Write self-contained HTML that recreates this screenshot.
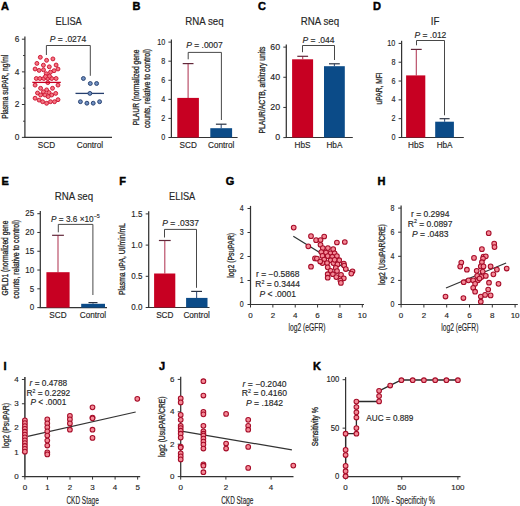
<!DOCTYPE html>
<html><head><meta charset="utf-8"><style>
html,body{margin:0;padding:0;background:#fff;}
svg{display:block;font-family:"Liberation Sans",sans-serif;}
text{fill:#262626;stroke:#262626;stroke-width:0.15px;}
text.rl{stroke-width:0.3px;}
</style></head><body>
<svg width="520" height="506" viewBox="0 0 520 506">
<rect x="0" y="0" width="520" height="506" fill="#fff"/>
<text x="1" y="9.7" font-size="11" font-weight="bold" style="fill:#000;stroke:#000;stroke-width:0.45px">A</text>
<text x="68.70" y="24.80" font-size="10.3" text-anchor="middle" textLength="26.2" lengthAdjust="spacingAndGlyphs" >ELISA</text>
<line x1="24.90" y1="36.60" x2="24.90" y2="137.90" stroke="#333333" stroke-width="1.25"/>
<line x1="21.90" y1="39.20" x2="24.90" y2="39.20" stroke="#333333" stroke-width="1.0"/>
<text x="19.40" y="41.99" font-size="9.3" text-anchor="end" textLength="4.65" lengthAdjust="spacingAndGlyphs" >6</text>
<line x1="21.90" y1="71.90" x2="24.90" y2="71.90" stroke="#333333" stroke-width="1.0"/>
<text x="19.40" y="74.69" font-size="9.3" text-anchor="end" textLength="4.65" lengthAdjust="spacingAndGlyphs" >4</text>
<line x1="21.90" y1="104.50" x2="24.90" y2="104.50" stroke="#333333" stroke-width="1.0"/>
<text x="19.40" y="107.29" font-size="9.3" text-anchor="end" textLength="4.65" lengthAdjust="spacingAndGlyphs" >2</text>
<line x1="21.90" y1="137.40" x2="24.90" y2="137.40" stroke="#333333" stroke-width="1.0"/>
<text x="19.40" y="140.19" font-size="9.3" text-anchor="end" textLength="4.65" lengthAdjust="spacingAndGlyphs" >0</text>
<line x1="23.10" y1="55.50" x2="24.90" y2="55.50" stroke="#333333" stroke-width="1.0"/>
<line x1="23.10" y1="88.20" x2="24.90" y2="88.20" stroke="#333333" stroke-width="1.0"/>
<line x1="23.10" y1="121.20" x2="24.90" y2="121.20" stroke="#333333" stroke-width="1.0"/>
<line x1="24.30" y1="137.40" x2="112.00" y2="137.40" stroke="#333333" stroke-width="1.2"/>
<text x="46.50" y="147.80" font-size="8.2" text-anchor="middle" >SCD</text>
<text x="90.00" y="147.80" font-size="8.2" text-anchor="middle" >Control</text>
<text x="7.70" y="86.75" font-size="9" text-anchor="middle" textLength="64.1" lengthAdjust="spacingAndGlyphs" transform="rotate(-90 7.70 86.75)" class="rl" >Plasma suPAR, ng/ml</text>
<polyline points="46.40,55.00 46.40,45.50 90.30,45.50 90.30,75.80" fill="none" stroke="#333333" stroke-width="0.9"/>
<text x="68.00" y="41.60" font-size="8.5" text-anchor="middle"><tspan font-style="italic">P</tspan> = .0274</text>
<circle cx="40.30" cy="57.30" r="1.95" fill="#f47482" stroke="#cc1430" stroke-width="0.95"/>
<circle cx="46.60" cy="60.30" r="1.95" fill="#f47482" stroke="#cc1430" stroke-width="0.95"/>
<circle cx="52.90" cy="58.90" r="1.95" fill="#f47482" stroke="#cc1430" stroke-width="0.95"/>
<circle cx="36.90" cy="63.40" r="1.95" fill="#f47482" stroke="#cc1430" stroke-width="0.95"/>
<circle cx="43.40" cy="65.20" r="1.95" fill="#f47482" stroke="#cc1430" stroke-width="0.95"/>
<circle cx="49.30" cy="66.80" r="1.95" fill="#f47482" stroke="#cc1430" stroke-width="0.95"/>
<circle cx="56.10" cy="65.00" r="1.95" fill="#f47482" stroke="#cc1430" stroke-width="0.95"/>
<circle cx="35.10" cy="69.00" r="1.95" fill="#f47482" stroke="#cc1430" stroke-width="0.95"/>
<circle cx="39.10" cy="70.40" r="1.95" fill="#f47482" stroke="#cc1430" stroke-width="0.95"/>
<circle cx="43.50" cy="69.80" r="1.95" fill="#f47482" stroke="#cc1430" stroke-width="0.95"/>
<circle cx="50.50" cy="72.10" r="1.95" fill="#f47482" stroke="#cc1430" stroke-width="0.95"/>
<circle cx="54.10" cy="70.70" r="1.95" fill="#f47482" stroke="#cc1430" stroke-width="0.95"/>
<circle cx="58.00" cy="69.00" r="1.95" fill="#f47482" stroke="#cc1430" stroke-width="0.95"/>
<circle cx="46.20" cy="73.70" r="1.95" fill="#f47482" stroke="#cc1430" stroke-width="0.95"/>
<circle cx="36.30" cy="78.50" r="1.95" fill="#f47482" stroke="#cc1430" stroke-width="0.95"/>
<circle cx="39.90" cy="78.50" r="1.95" fill="#f47482" stroke="#cc1430" stroke-width="0.95"/>
<circle cx="43.80" cy="78.50" r="1.95" fill="#f47482" stroke="#cc1430" stroke-width="0.95"/>
<circle cx="47.80" cy="78.50" r="1.95" fill="#f47482" stroke="#cc1430" stroke-width="0.95"/>
<circle cx="51.70" cy="78.50" r="1.95" fill="#f47482" stroke="#cc1430" stroke-width="0.95"/>
<circle cx="56.10" cy="78.50" r="1.95" fill="#f47482" stroke="#cc1430" stroke-width="0.95"/>
<circle cx="45.50" cy="76.50" r="1.95" fill="#f47482" stroke="#cc1430" stroke-width="0.95"/>
<circle cx="49.50" cy="76.20" r="1.95" fill="#f47482" stroke="#cc1430" stroke-width="0.95"/>
<circle cx="35.10" cy="85.10" r="1.95" fill="#f47482" stroke="#cc1430" stroke-width="0.95"/>
<circle cx="58.00" cy="85.10" r="1.95" fill="#f47482" stroke="#cc1430" stroke-width="0.95"/>
<circle cx="47.80" cy="82.60" r="1.95" fill="#f47482" stroke="#cc1430" stroke-width="0.95"/>
<circle cx="40.60" cy="88.30" r="1.95" fill="#f47482" stroke="#cc1430" stroke-width="0.95"/>
<circle cx="46.60" cy="89.90" r="1.95" fill="#f47482" stroke="#cc1430" stroke-width="0.95"/>
<circle cx="52.50" cy="88.30" r="1.95" fill="#f47482" stroke="#cc1430" stroke-width="0.95"/>
<circle cx="43.40" cy="91.80" r="1.95" fill="#f47482" stroke="#cc1430" stroke-width="0.95"/>
<circle cx="37.50" cy="93.00" r="1.95" fill="#f47482" stroke="#cc1430" stroke-width="0.95"/>
<circle cx="55.70" cy="93.40" r="1.95" fill="#f47482" stroke="#cc1430" stroke-width="0.95"/>
<circle cx="49.00" cy="92.60" r="1.95" fill="#f47482" stroke="#cc1430" stroke-width="0.95"/>
<circle cx="40.60" cy="95.00" r="1.95" fill="#f47482" stroke="#cc1430" stroke-width="0.95"/>
<circle cx="45.00" cy="95.00" r="1.95" fill="#f47482" stroke="#cc1430" stroke-width="0.95"/>
<circle cx="51.70" cy="95.00" r="1.95" fill="#f47482" stroke="#cc1430" stroke-width="0.95"/>
<circle cx="48.20" cy="96.60" r="1.95" fill="#f47482" stroke="#cc1430" stroke-width="0.95"/>
<circle cx="35.10" cy="98.20" r="1.95" fill="#f47482" stroke="#cc1430" stroke-width="0.95"/>
<circle cx="39.10" cy="100.10" r="1.95" fill="#f47482" stroke="#cc1430" stroke-width="0.95"/>
<circle cx="42.60" cy="101.70" r="1.95" fill="#f47482" stroke="#cc1430" stroke-width="0.95"/>
<circle cx="46.60" cy="103.30" r="1.95" fill="#f47482" stroke="#cc1430" stroke-width="0.95"/>
<circle cx="50.50" cy="101.70" r="1.95" fill="#f47482" stroke="#cc1430" stroke-width="0.95"/>
<circle cx="54.50" cy="101.70" r="1.95" fill="#f47482" stroke="#cc1430" stroke-width="0.95"/>
<circle cx="58.00" cy="99.70" r="1.95" fill="#f47482" stroke="#cc1430" stroke-width="0.95"/>
<line x1="32.30" y1="82.40" x2="60.80" y2="82.40" stroke="#c70022" stroke-width="1.3"/>
<line x1="75.50" y1="93.40" x2="104.00" y2="93.40" stroke="#263f6e" stroke-width="1.3"/>
<circle cx="83.40" cy="78.50" r="1.95" fill="#7090c2" stroke="#263f6e" stroke-width="0.95"/>
<circle cx="90.30" cy="83.50" r="1.95" fill="#7090c2" stroke="#263f6e" stroke-width="0.95"/>
<circle cx="96.60" cy="83.50" r="1.95" fill="#7090c2" stroke="#263f6e" stroke-width="0.95"/>
<circle cx="89.90" cy="93.40" r="1.95" fill="#7090c2" stroke="#263f6e" stroke-width="0.95"/>
<circle cx="80.40" cy="101.70" r="1.95" fill="#7090c2" stroke="#263f6e" stroke-width="0.95"/>
<circle cx="86.90" cy="103.20" r="1.95" fill="#7090c2" stroke="#263f6e" stroke-width="0.95"/>
<circle cx="93.20" cy="103.20" r="1.95" fill="#7090c2" stroke="#263f6e" stroke-width="0.95"/>
<circle cx="99.60" cy="101.70" r="1.95" fill="#7090c2" stroke="#263f6e" stroke-width="0.95"/>
<text x="132.5" y="9.7" font-size="11" font-weight="bold" style="fill:#000;stroke:#000;stroke-width:0.45px">B</text>
<text x="204.40" y="24.80" font-size="10.3" text-anchor="middle" textLength="38.3" lengthAdjust="spacingAndGlyphs" >RNA seq</text>
<line x1="171.40" y1="39.50" x2="171.40" y2="138.00" stroke="#333333" stroke-width="1.25"/>
<line x1="168.40" y1="42.10" x2="171.40" y2="42.10" stroke="#333333" stroke-width="1.0"/>
<text x="165.20" y="44.57" font-size="9.5" text-anchor="end" textLength="8.03" lengthAdjust="spacingAndGlyphs" >10</text>
<line x1="168.40" y1="61.18" x2="171.40" y2="61.18" stroke="#333333" stroke-width="1.0"/>
<text x="165.20" y="63.65" font-size="9.5" text-anchor="end" textLength="4.01" lengthAdjust="spacingAndGlyphs" >8</text>
<line x1="168.40" y1="80.26" x2="171.40" y2="80.26" stroke="#333333" stroke-width="1.0"/>
<text x="165.20" y="82.73" font-size="9.5" text-anchor="end" textLength="4.01" lengthAdjust="spacingAndGlyphs" >6</text>
<line x1="168.40" y1="99.34" x2="171.40" y2="99.34" stroke="#333333" stroke-width="1.0"/>
<text x="165.20" y="101.81" font-size="9.5" text-anchor="end" textLength="4.01" lengthAdjust="spacingAndGlyphs" >4</text>
<line x1="168.40" y1="118.42" x2="171.40" y2="118.42" stroke="#333333" stroke-width="1.0"/>
<text x="165.20" y="120.89" font-size="9.5" text-anchor="end" textLength="4.01" lengthAdjust="spacingAndGlyphs" >2</text>
<line x1="168.40" y1="137.50" x2="171.40" y2="137.50" stroke="#333333" stroke-width="1.0"/>
<text x="165.20" y="139.97" font-size="9.5" text-anchor="end" textLength="4.01" lengthAdjust="spacingAndGlyphs" >0</text>
<line x1="170.80" y1="137.50" x2="237.60" y2="137.50" stroke="#333333" stroke-width="1.2"/>
<line x1="188.10" y1="97.90" x2="188.10" y2="63.60" stroke="#b4405c" stroke-width="1.1"/>
<line x1="182.70" y1="63.60" x2="193.50" y2="63.60" stroke="#62283a" stroke-width="1.2000000000000002"/>
<rect x="177.30" y="97.90" width="21.60" height="39.60" fill="#c70022"/>
<line x1="221.20" y1="128.20" x2="221.20" y2="124.20" stroke="#3a5580" stroke-width="1.1"/>
<line x1="215.90" y1="124.20" x2="226.50" y2="124.20" stroke="#2a3242" stroke-width="1.2000000000000002"/>
<rect x="210.30" y="128.20" width="21.80" height="9.30" fill="#0b4b88"/>
<polyline points="188.20,59.30 188.20,52.40 221.40,52.40 221.40,120.00" fill="none" stroke="#333333" stroke-width="0.9"/>
<text x="204.50" y="47.50" font-size="8.5" text-anchor="middle"><tspan font-style="italic">P</tspan> = .0007</text>
<text x="188.20" y="147.80" font-size="8.2" text-anchor="middle" >SCD</text>
<text x="221.20" y="147.80" font-size="8.2" text-anchor="middle" >Control</text>
<text x="138.75" y="87.45" font-size="9" text-anchor="middle" textLength="75.7" lengthAdjust="spacingAndGlyphs" transform="rotate(-90 138.75 87.45)" class="rl" >PLAUR (normalized gene</text>
<text x="150.35" y="88.55" font-size="9" text-anchor="middle" textLength="79.1" lengthAdjust="spacingAndGlyphs" transform="rotate(-90 150.35 88.55)" class="rl" >counts, relative to control)</text>
<text x="258" y="9.7" font-size="11" font-weight="bold" style="fill:#000;stroke:#000;stroke-width:0.45px">C</text>
<text x="320.00" y="24.80" font-size="10.3" text-anchor="middle" textLength="38.3" lengthAdjust="spacingAndGlyphs" >RNA seq</text>
<line x1="286.30" y1="44.52" x2="286.30" y2="138.00" stroke="#333333" stroke-width="1.25"/>
<line x1="283.30" y1="47.12" x2="286.30" y2="47.12" stroke="#333333" stroke-width="1.0"/>
<text x="280.10" y="49.76" font-size="8.8" text-anchor="end" >60</text>
<line x1="283.30" y1="77.28" x2="286.30" y2="77.28" stroke="#333333" stroke-width="1.0"/>
<text x="280.10" y="79.92" font-size="8.8" text-anchor="end" >40</text>
<line x1="283.30" y1="107.44" x2="286.30" y2="107.44" stroke="#333333" stroke-width="1.0"/>
<text x="280.10" y="110.08" font-size="8.8" text-anchor="end" >20</text>
<line x1="283.30" y1="137.60" x2="286.30" y2="137.60" stroke="#333333" stroke-width="1.0"/>
<text x="280.10" y="140.24" font-size="8.8" text-anchor="end" >0</text>
<line x1="285.70" y1="137.50" x2="352.80" y2="137.50" stroke="#333333" stroke-width="1.2"/>
<line x1="302.70" y1="59.30" x2="302.70" y2="56.30" stroke="#b4405c" stroke-width="1.1"/>
<line x1="297.30" y1="56.30" x2="308.10" y2="56.30" stroke="#62283a" stroke-width="1.2000000000000002"/>
<rect x="292.10" y="59.30" width="21.00" height="78.20" fill="#c70022"/>
<line x1="334.40" y1="66.20" x2="334.40" y2="63.80" stroke="#3a5580" stroke-width="1.1"/>
<line x1="329.00" y1="63.80" x2="339.80" y2="63.80" stroke="#2a3242" stroke-width="1.2000000000000002"/>
<rect x="324.00" y="66.20" width="20.80" height="71.30" fill="#0b4b88"/>
<polyline points="302.50,52.20 302.50,45.50 334.50,45.50 334.50,60.00" fill="none" stroke="#333333" stroke-width="0.9"/>
<text x="318.50" y="42.60" font-size="8.5" text-anchor="middle"><tspan font-style="italic">P</tspan> = .044</text>
<text x="302.50" y="147.80" font-size="8.2" text-anchor="middle" >HbS</text>
<text x="334.40" y="147.80" font-size="8.2" text-anchor="middle" >HbA</text>
<text x="264.80" y="90.10" font-size="9" text-anchor="middle" textLength="87.0" lengthAdjust="spacingAndGlyphs" transform="rotate(-90 264.80 90.10)" class="rl" >PLAUR/ACTB, arbitrary units</text>
<text x="373" y="9.7" font-size="11" font-weight="bold" style="fill:#000;stroke:#000;stroke-width:0.45px">D</text>
<text x="435.00" y="24.80" font-size="10.3" text-anchor="middle" textLength="8.6" lengthAdjust="spacingAndGlyphs" >IF</text>
<line x1="401.60" y1="40.80" x2="401.60" y2="138.00" stroke="#333333" stroke-width="1.25"/>
<line x1="398.60" y1="43.40" x2="401.60" y2="43.40" stroke="#333333" stroke-width="1.0"/>
<text x="395.40" y="45.87" font-size="9.5" text-anchor="end" textLength="8.03" lengthAdjust="spacingAndGlyphs" >10</text>
<line x1="398.60" y1="62.22" x2="401.60" y2="62.22" stroke="#333333" stroke-width="1.0"/>
<text x="395.40" y="64.69" font-size="9.5" text-anchor="end" textLength="4.01" lengthAdjust="spacingAndGlyphs" >8</text>
<line x1="398.60" y1="81.04" x2="401.60" y2="81.04" stroke="#333333" stroke-width="1.0"/>
<text x="395.40" y="83.51" font-size="9.5" text-anchor="end" textLength="4.01" lengthAdjust="spacingAndGlyphs" >6</text>
<line x1="398.60" y1="99.86" x2="401.60" y2="99.86" stroke="#333333" stroke-width="1.0"/>
<text x="395.40" y="102.33" font-size="9.5" text-anchor="end" textLength="4.01" lengthAdjust="spacingAndGlyphs" >4</text>
<line x1="398.60" y1="118.68" x2="401.60" y2="118.68" stroke="#333333" stroke-width="1.0"/>
<text x="395.40" y="121.15" font-size="9.5" text-anchor="end" textLength="4.01" lengthAdjust="spacingAndGlyphs" >2</text>
<line x1="398.60" y1="137.50" x2="401.60" y2="137.50" stroke="#333333" stroke-width="1.0"/>
<text x="395.40" y="139.97" font-size="9.5" text-anchor="end" textLength="4.01" lengthAdjust="spacingAndGlyphs" >0</text>
<line x1="401.00" y1="137.50" x2="463.80" y2="137.50" stroke="#333333" stroke-width="1.2"/>
<line x1="416.30" y1="75.40" x2="416.30" y2="49.40" stroke="#b4405c" stroke-width="1.1"/>
<line x1="410.90" y1="49.40" x2="421.70" y2="49.40" stroke="#62283a" stroke-width="1.2000000000000002"/>
<rect x="406.10" y="75.40" width="19.20" height="62.10" fill="#c70022"/>
<line x1="444.60" y1="121.70" x2="444.60" y2="118.70" stroke="#3a5580" stroke-width="1.1"/>
<line x1="439.60" y1="118.70" x2="449.60" y2="118.70" stroke="#2a3242" stroke-width="1.2000000000000002"/>
<rect x="435.20" y="121.70" width="18.70" height="15.80" fill="#0b4b88"/>
<polyline points="416.50,45.30 416.50,40.50 444.50,40.50 444.50,115.30" fill="none" stroke="#333333" stroke-width="0.9"/>
<text x="430.40" y="37.60" font-size="8.5" text-anchor="middle"><tspan font-style="italic">P</tspan> = .012</text>
<text x="416.00" y="147.80" font-size="8.2" text-anchor="middle" >HbS</text>
<text x="444.60" y="147.80" font-size="8.2" text-anchor="middle" >HbA</text>
<text x="381.60" y="88.35" font-size="9" text-anchor="middle" textLength="32.1" lengthAdjust="spacingAndGlyphs" transform="rotate(-90 381.60 88.35)" class="rl" >uPAR, MFI</text>
<text x="1.4" y="185.0" font-size="11" font-weight="bold" style="fill:#000;stroke:#000;stroke-width:0.45px">E</text>
<text x="74.00" y="199.80" font-size="10.3" text-anchor="middle" textLength="38.3" lengthAdjust="spacingAndGlyphs" >RNA seq</text>
<line x1="40.30" y1="211.10" x2="40.30" y2="308.10" stroke="#333333" stroke-width="1.25"/>
<line x1="37.30" y1="213.70" x2="40.30" y2="213.70" stroke="#333333" stroke-width="1.0"/>
<text x="34.10" y="216.49" font-size="9.3" text-anchor="end" textLength="8.89" lengthAdjust="spacingAndGlyphs" >25</text>
<line x1="37.30" y1="232.48" x2="40.30" y2="232.48" stroke="#333333" stroke-width="1.0"/>
<text x="34.10" y="235.27" font-size="9.3" text-anchor="end" textLength="8.89" lengthAdjust="spacingAndGlyphs" >20</text>
<line x1="37.30" y1="251.26" x2="40.30" y2="251.26" stroke="#333333" stroke-width="1.0"/>
<text x="34.10" y="254.05" font-size="9.3" text-anchor="end" textLength="8.89" lengthAdjust="spacingAndGlyphs" >15</text>
<line x1="37.30" y1="270.04" x2="40.30" y2="270.04" stroke="#333333" stroke-width="1.0"/>
<text x="34.10" y="272.83" font-size="9.3" text-anchor="end" textLength="8.89" lengthAdjust="spacingAndGlyphs" >10</text>
<line x1="37.30" y1="288.82" x2="40.30" y2="288.82" stroke="#333333" stroke-width="1.0"/>
<text x="34.10" y="291.61" font-size="9.3" text-anchor="end" textLength="4.45" lengthAdjust="spacingAndGlyphs" >5</text>
<line x1="37.30" y1="307.60" x2="40.30" y2="307.60" stroke="#333333" stroke-width="1.0"/>
<text x="34.10" y="310.39" font-size="9.3" text-anchor="end" textLength="4.45" lengthAdjust="spacingAndGlyphs" >0</text>
<line x1="39.60" y1="307.60" x2="107.00" y2="307.60" stroke="#333333" stroke-width="1.2"/>
<line x1="58.00" y1="272.20" x2="58.00" y2="235.30" stroke="#b4405c" stroke-width="1.1"/>
<line x1="52.10" y1="235.30" x2="63.90" y2="235.30" stroke="#62283a" stroke-width="1.2000000000000002"/>
<rect x="46.40" y="272.20" width="23.20" height="35.40" fill="#c70022"/>
<line x1="93.00" y1="303.80" x2="93.00" y2="302.60" stroke="#3a5580" stroke-width="1.1"/>
<line x1="88.50" y1="302.60" x2="97.50" y2="302.60" stroke="#2a3242" stroke-width="1.2000000000000002"/>
<rect x="81.20" y="303.80" width="23.80" height="3.80" fill="#0b4b88"/>
<polyline points="58.30,232.30 58.30,224.40 92.90,224.40 92.90,295.00" fill="none" stroke="#333333" stroke-width="0.9"/>
<text x="51.1" y="221.6" font-size="8.5" textLength="48.6" lengthAdjust="spacingAndGlyphs"><tspan font-style="italic">P</tspan> = 3.6 ×10<tspan font-size="5.5" dy="-3.3">−5</tspan></text>
<text x="58.00" y="318.00" font-size="8.2" text-anchor="middle" >SCD</text>
<text x="93.00" y="318.00" font-size="8.2" text-anchor="middle" >Control</text>
<text x="8.30" y="258.05" font-size="9" text-anchor="middle" textLength="74.9" lengthAdjust="spacingAndGlyphs" transform="rotate(-90 8.30 258.05)" class="rl" >GPLD1 (normalized gene</text>
<text x="19.30" y="259.35" font-size="9" text-anchor="middle" textLength="78.7" lengthAdjust="spacingAndGlyphs" transform="rotate(-90 19.30 259.35)" class="rl" >counts, relative to control)</text>
<text x="119.3" y="185.0" font-size="11" font-weight="bold" style="fill:#000;stroke:#000;stroke-width:0.45px">F</text>
<text x="182.20" y="199.70" font-size="10.3" text-anchor="middle" textLength="26.2" lengthAdjust="spacingAndGlyphs" >ELISA</text>
<line x1="148.70" y1="211.30" x2="148.70" y2="308.00" stroke="#333333" stroke-width="1.25"/>
<line x1="145.70" y1="213.90" x2="148.70" y2="213.90" stroke="#333333" stroke-width="1.0"/>
<text x="142.50" y="216.54" font-size="8.8" text-anchor="end" textLength="11.13" lengthAdjust="spacingAndGlyphs" >1.5</text>
<line x1="145.70" y1="245.10" x2="148.70" y2="245.10" stroke="#333333" stroke-width="1.0"/>
<text x="142.50" y="247.74" font-size="8.8" text-anchor="end" textLength="11.13" lengthAdjust="spacingAndGlyphs" >1.0</text>
<line x1="145.70" y1="276.30" x2="148.70" y2="276.30" stroke="#333333" stroke-width="1.0"/>
<text x="142.50" y="278.94" font-size="8.8" text-anchor="end" textLength="11.13" lengthAdjust="spacingAndGlyphs" >0.5</text>
<line x1="145.70" y1="307.50" x2="148.70" y2="307.50" stroke="#333333" stroke-width="1.0"/>
<text x="142.50" y="310.14" font-size="8.8" text-anchor="end" textLength="11.13" lengthAdjust="spacingAndGlyphs" >0.0</text>
<line x1="148.00" y1="307.50" x2="209.50" y2="307.50" stroke="#333333" stroke-width="1.2"/>
<line x1="164.80" y1="273.50" x2="164.80" y2="240.50" stroke="#b4405c" stroke-width="1.1"/>
<line x1="158.90" y1="240.50" x2="170.70" y2="240.50" stroke="#62283a" stroke-width="1.2000000000000002"/>
<rect x="154.10" y="273.50" width="21.20" height="34.00" fill="#c70022"/>
<line x1="196.60" y1="297.90" x2="196.60" y2="291.40" stroke="#3a5580" stroke-width="1.1"/>
<line x1="191.20" y1="291.40" x2="202.00" y2="291.40" stroke="#2a3242" stroke-width="1.2000000000000002"/>
<rect x="186.10" y="297.90" width="21.40" height="9.60" fill="#0b4b88"/>
<polyline points="164.50,237.50 164.50,229.40 196.50,229.40 196.50,287.80" fill="none" stroke="#333333" stroke-width="0.9"/>
<text x="180.60" y="226.30" font-size="8.5" text-anchor="middle"><tspan font-style="italic">P</tspan> = .0337</text>
<text x="164.80" y="318.00" font-size="8.2" text-anchor="middle" >SCD</text>
<text x="196.60" y="318.00" font-size="8.2" text-anchor="middle" >Control</text>
<text x="125.20" y="259.10" font-size="9" text-anchor="middle" textLength="72.0" lengthAdjust="spacingAndGlyphs" transform="rotate(-90 125.20 259.10)" class="rl" >Plasma uPA, UI/min/mL</text>
<text x="225.8" y="185.0" font-size="11" font-weight="bold" style="fill:#000;stroke:#000;stroke-width:0.45px">G</text>
<line x1="250.50" y1="205.90" x2="250.50" y2="305.00" stroke="#333333" stroke-width="1.25"/>
<line x1="247.50" y1="208.50" x2="250.50" y2="208.50" stroke="#333333" stroke-width="1.0"/>
<text x="243.70" y="211.41" font-size="8.3" text-anchor="end" textLength="3.92" lengthAdjust="spacingAndGlyphs" >4</text>
<line x1="247.50" y1="232.50" x2="250.50" y2="232.50" stroke="#333333" stroke-width="1.0"/>
<text x="243.70" y="235.41" font-size="8.3" text-anchor="end" textLength="3.92" lengthAdjust="spacingAndGlyphs" >3</text>
<line x1="247.50" y1="256.50" x2="250.50" y2="256.50" stroke="#333333" stroke-width="1.0"/>
<text x="243.70" y="259.40" font-size="8.3" text-anchor="end" textLength="3.92" lengthAdjust="spacingAndGlyphs" >2</text>
<line x1="247.50" y1="280.50" x2="250.50" y2="280.50" stroke="#333333" stroke-width="1.0"/>
<text x="243.70" y="283.40" font-size="8.3" text-anchor="end" textLength="3.92" lengthAdjust="spacingAndGlyphs" >1</text>
<line x1="247.50" y1="304.50" x2="250.50" y2="304.50" stroke="#333333" stroke-width="1.0"/>
<text x="243.70" y="307.40" font-size="8.3" text-anchor="end" textLength="3.92" lengthAdjust="spacingAndGlyphs" >0</text>
<line x1="249.90" y1="304.50" x2="364.00" y2="304.50" stroke="#333333" stroke-width="1.2"/>
<line x1="250.50" y1="304.50" x2="250.50" y2="307.50" stroke="#333333" stroke-width="1.0"/>
<text x="250.50" y="318.10" font-size="8" text-anchor="middle" >0</text>
<line x1="272.86" y1="304.50" x2="272.86" y2="307.50" stroke="#333333" stroke-width="1.0"/>
<text x="272.86" y="318.10" font-size="8" text-anchor="middle" >2</text>
<line x1="295.22" y1="304.50" x2="295.22" y2="307.50" stroke="#333333" stroke-width="1.0"/>
<text x="295.22" y="318.10" font-size="8" text-anchor="middle" >4</text>
<line x1="317.58" y1="304.50" x2="317.58" y2="307.50" stroke="#333333" stroke-width="1.0"/>
<text x="317.58" y="318.10" font-size="8" text-anchor="middle" >6</text>
<line x1="339.94" y1="304.50" x2="339.94" y2="307.50" stroke="#333333" stroke-width="1.0"/>
<text x="339.94" y="318.10" font-size="8" text-anchor="middle" >8</text>
<line x1="362.30" y1="304.50" x2="362.30" y2="307.50" stroke="#333333" stroke-width="1.0"/>
<text x="362.30" y="318.10" font-size="8" text-anchor="middle" >10</text>
<text x="307.00" y="330.50" font-size="10.3" text-anchor="middle" textLength="37" lengthAdjust="spacingAndGlyphs" >log2 (eGFR)</text>
<text x="234.50" y="255.30" font-size="9" text-anchor="middle" textLength="44.9" lengthAdjust="spacingAndGlyphs" transform="rotate(-90 234.50 255.30)" class="rl" >log2 (PsuPAR)</text>
<text x="277.7" y="277.1" font-size="8.5" text-anchor="middle">r = −0.5868</text>
<text x="277.7" y="286.9" font-size="8.5" text-anchor="middle">R<tspan font-size="5.27" dy="-3.2">2</tspan><tspan dy="3.2"> = 0.3444</tspan></text>
<text x="277.7" y="296.7" font-size="8.5" text-anchor="middle"><tspan font-style="italic">P</tspan> &lt; .0001</text>
<line x1="293.30" y1="236.20" x2="352.50" y2="272.80" stroke="#2c3434" stroke-width="1.25"/>
<circle cx="293.70" cy="227.60" r="2.35" fill="#f58a97" stroke="#a60c28" stroke-width="1.05"/>
<circle cx="311.00" cy="236.20" r="2.35" fill="#f58a97" stroke="#a60c28" stroke-width="1.05"/>
<circle cx="324.20" cy="236.50" r="2.35" fill="#f58a97" stroke="#a60c28" stroke-width="1.05"/>
<circle cx="316.10" cy="240.20" r="2.35" fill="#f58a97" stroke="#a60c28" stroke-width="1.05"/>
<circle cx="320.50" cy="240.00" r="2.35" fill="#f58a97" stroke="#a60c28" stroke-width="1.05"/>
<circle cx="320.50" cy="244.80" r="2.35" fill="#f58a97" stroke="#a60c28" stroke-width="1.05"/>
<circle cx="336.90" cy="242.50" r="2.35" fill="#f58a97" stroke="#a60c28" stroke-width="1.05"/>
<circle cx="344.80" cy="242.00" r="2.35" fill="#f58a97" stroke="#a60c28" stroke-width="1.05"/>
<circle cx="308.30" cy="246.30" r="2.35" fill="#f58a97" stroke="#a60c28" stroke-width="1.05"/>
<circle cx="322.80" cy="248.10" r="2.35" fill="#f58a97" stroke="#a60c28" stroke-width="1.05"/>
<circle cx="327.90" cy="248.10" r="2.35" fill="#f58a97" stroke="#a60c28" stroke-width="1.05"/>
<circle cx="333.20" cy="249.20" r="2.35" fill="#f58a97" stroke="#a60c28" stroke-width="1.05"/>
<circle cx="321.30" cy="252.10" r="2.35" fill="#f58a97" stroke="#a60c28" stroke-width="1.05"/>
<circle cx="326.00" cy="252.50" r="2.35" fill="#f58a97" stroke="#a60c28" stroke-width="1.05"/>
<circle cx="330.60" cy="253.30" r="2.35" fill="#f58a97" stroke="#a60c28" stroke-width="1.05"/>
<circle cx="334.60" cy="253.30" r="2.35" fill="#f58a97" stroke="#a60c28" stroke-width="1.05"/>
<circle cx="336.90" cy="256.10" r="2.35" fill="#f58a97" stroke="#a60c28" stroke-width="1.05"/>
<circle cx="315.00" cy="258.40" r="2.35" fill="#f58a97" stroke="#a60c28" stroke-width="1.05"/>
<circle cx="322.50" cy="255.90" r="2.35" fill="#f58a97" stroke="#a60c28" stroke-width="1.05"/>
<circle cx="327.70" cy="256.10" r="2.35" fill="#f58a97" stroke="#a60c28" stroke-width="1.05"/>
<circle cx="332.30" cy="256.70" r="2.35" fill="#f58a97" stroke="#a60c28" stroke-width="1.05"/>
<circle cx="339.20" cy="260.20" r="2.35" fill="#f58a97" stroke="#a60c28" stroke-width="1.05"/>
<circle cx="324.20" cy="259.60" r="2.35" fill="#f58a97" stroke="#a60c28" stroke-width="1.05"/>
<circle cx="330.60" cy="260.20" r="2.35" fill="#f58a97" stroke="#a60c28" stroke-width="1.05"/>
<circle cx="322.50" cy="263.10" r="2.35" fill="#f58a97" stroke="#a60c28" stroke-width="1.05"/>
<circle cx="327.10" cy="263.10" r="2.35" fill="#f58a97" stroke="#a60c28" stroke-width="1.05"/>
<circle cx="333.40" cy="263.10" r="2.35" fill="#f58a97" stroke="#a60c28" stroke-width="1.05"/>
<circle cx="343.80" cy="263.60" r="2.35" fill="#f58a97" stroke="#a60c28" stroke-width="1.05"/>
<circle cx="316.90" cy="258.60" r="2.35" fill="#f58a97" stroke="#a60c28" stroke-width="1.05"/>
<circle cx="311.00" cy="266.70" r="2.35" fill="#f58a97" stroke="#a60c28" stroke-width="1.05"/>
<circle cx="320.20" cy="261.50" r="2.35" fill="#f58a97" stroke="#a60c28" stroke-width="1.05"/>
<circle cx="334.60" cy="259.80" r="2.35" fill="#f58a97" stroke="#a60c28" stroke-width="1.05"/>
<circle cx="337.50" cy="264.40" r="2.35" fill="#f58a97" stroke="#a60c28" stroke-width="1.05"/>
<circle cx="327.70" cy="267.30" r="2.35" fill="#f58a97" stroke="#a60c28" stroke-width="1.05"/>
<circle cx="335.80" cy="267.90" r="2.35" fill="#f58a97" stroke="#a60c28" stroke-width="1.05"/>
<circle cx="344.20" cy="265.60" r="2.35" fill="#f58a97" stroke="#a60c28" stroke-width="1.05"/>
<circle cx="345.80" cy="269.00" r="2.35" fill="#f58a97" stroke="#a60c28" stroke-width="1.05"/>
<circle cx="330.60" cy="270.80" r="2.35" fill="#f58a97" stroke="#a60c28" stroke-width="1.05"/>
<circle cx="337.00" cy="271.00" r="2.35" fill="#f58a97" stroke="#a60c28" stroke-width="1.05"/>
<circle cx="352.50" cy="271.30" r="2.35" fill="#f58a97" stroke="#a60c28" stroke-width="1.05"/>
<circle cx="351.30" cy="273.60" r="2.35" fill="#f58a97" stroke="#a60c28" stroke-width="1.05"/>
<circle cx="327.70" cy="274.20" r="2.35" fill="#f58a97" stroke="#a60c28" stroke-width="1.05"/>
<circle cx="332.90" cy="274.20" r="2.35" fill="#f58a97" stroke="#a60c28" stroke-width="1.05"/>
<circle cx="341.00" cy="274.80" r="2.35" fill="#f58a97" stroke="#a60c28" stroke-width="1.05"/>
<circle cx="327.70" cy="277.70" r="2.35" fill="#f58a97" stroke="#a60c28" stroke-width="1.05"/>
<circle cx="336.30" cy="277.10" r="2.35" fill="#f58a97" stroke="#a60c28" stroke-width="1.05"/>
<circle cx="343.80" cy="278.30" r="2.35" fill="#f58a97" stroke="#a60c28" stroke-width="1.05"/>
<circle cx="340.40" cy="280.60" r="2.35" fill="#f58a97" stroke="#a60c28" stroke-width="1.05"/>
<circle cx="340.90" cy="282.90" r="2.35" fill="#f58a97" stroke="#a60c28" stroke-width="1.05"/>
<text x="377.4" y="185.0" font-size="11" font-weight="bold" style="fill:#000;stroke:#000;stroke-width:0.45px">H</text>
<line x1="401.10" y1="205.50" x2="401.10" y2="305.00" stroke="#333333" stroke-width="1.25"/>
<line x1="398.10" y1="208.10" x2="401.10" y2="208.10" stroke="#333333" stroke-width="1.0"/>
<text x="394.30" y="211.00" font-size="8.3" text-anchor="end" textLength="3.92" lengthAdjust="spacingAndGlyphs" >8</text>
<line x1="398.10" y1="232.20" x2="401.10" y2="232.20" stroke="#333333" stroke-width="1.0"/>
<text x="394.30" y="235.10" font-size="8.3" text-anchor="end" textLength="3.92" lengthAdjust="spacingAndGlyphs" >6</text>
<line x1="398.10" y1="256.30" x2="401.10" y2="256.30" stroke="#333333" stroke-width="1.0"/>
<text x="394.30" y="259.20" font-size="8.3" text-anchor="end" textLength="3.92" lengthAdjust="spacingAndGlyphs" >4</text>
<line x1="398.10" y1="280.40" x2="401.10" y2="280.40" stroke="#333333" stroke-width="1.0"/>
<text x="394.30" y="283.30" font-size="8.3" text-anchor="end" textLength="3.92" lengthAdjust="spacingAndGlyphs" >2</text>
<line x1="398.10" y1="304.50" x2="401.10" y2="304.50" stroke="#333333" stroke-width="1.0"/>
<text x="394.30" y="307.40" font-size="8.3" text-anchor="end" textLength="3.92" lengthAdjust="spacingAndGlyphs" >0</text>
<line x1="400.50" y1="304.50" x2="517.80" y2="304.50" stroke="#333333" stroke-width="1.2"/>
<line x1="401.10" y1="304.50" x2="401.10" y2="307.50" stroke="#333333" stroke-width="1.0"/>
<text x="401.10" y="318.10" font-size="8" text-anchor="middle" >0</text>
<line x1="423.90" y1="304.50" x2="423.90" y2="307.50" stroke="#333333" stroke-width="1.0"/>
<text x="423.90" y="318.10" font-size="8" text-anchor="middle" >2</text>
<line x1="446.70" y1="304.50" x2="446.70" y2="307.50" stroke="#333333" stroke-width="1.0"/>
<text x="446.70" y="318.10" font-size="8" text-anchor="middle" >4</text>
<line x1="469.50" y1="304.50" x2="469.50" y2="307.50" stroke="#333333" stroke-width="1.0"/>
<text x="469.50" y="318.10" font-size="8" text-anchor="middle" >6</text>
<line x1="492.30" y1="304.50" x2="492.30" y2="307.50" stroke="#333333" stroke-width="1.0"/>
<text x="492.30" y="318.10" font-size="8" text-anchor="middle" >8</text>
<line x1="515.10" y1="304.50" x2="515.10" y2="307.50" stroke="#333333" stroke-width="1.0"/>
<text x="515.10" y="318.10" font-size="8" text-anchor="middle" >10</text>
<text x="459.80" y="330.50" font-size="10.3" text-anchor="middle" textLength="37.2" lengthAdjust="spacingAndGlyphs" >log2 (eGFR)</text>
<text x="384.90" y="254.55" font-size="9" text-anchor="middle" textLength="60.7" lengthAdjust="spacingAndGlyphs" transform="rotate(-90 384.90 254.55)" class="rl" >log2 (UsuPAR/CRE)</text>
<text x="430.2" y="217.0" font-size="8.5" text-anchor="middle">r = 0.2994</text>
<text x="430.2" y="226.6" font-size="8.5" text-anchor="middle">R<tspan font-size="5.27" dy="-3.2">2</tspan><tspan dy="3.2"> = 0.0897</tspan></text>
<text x="430.2" y="236.5" font-size="8.5" text-anchor="middle"><tspan font-style="italic">P</tspan> = .0483</text>
<line x1="446.00" y1="288.00" x2="506.10" y2="263.00" stroke="#333" stroke-width="1.2"/>
<circle cx="488.70" cy="233.20" r="2.35" fill="#f58a97" stroke="#a60c28" stroke-width="1.05"/>
<circle cx="494.20" cy="243.70" r="2.35" fill="#f58a97" stroke="#a60c28" stroke-width="1.05"/>
<circle cx="494.50" cy="247.10" r="2.35" fill="#f58a97" stroke="#a60c28" stroke-width="1.05"/>
<circle cx="481.90" cy="249.20" r="2.35" fill="#f58a97" stroke="#a60c28" stroke-width="1.05"/>
<circle cx="474.00" cy="257.90" r="2.35" fill="#f58a97" stroke="#a60c28" stroke-width="1.05"/>
<circle cx="483.50" cy="256.60" r="2.35" fill="#f58a97" stroke="#a60c28" stroke-width="1.05"/>
<circle cx="485.80" cy="256.30" r="2.35" fill="#f58a97" stroke="#a60c28" stroke-width="1.05"/>
<circle cx="483.00" cy="258.50" r="2.35" fill="#f58a97" stroke="#a60c28" stroke-width="1.05"/>
<circle cx="481.90" cy="262.20" r="2.35" fill="#f58a97" stroke="#a60c28" stroke-width="1.05"/>
<circle cx="461.30" cy="262.50" r="2.35" fill="#f58a97" stroke="#a60c28" stroke-width="1.05"/>
<circle cx="460.20" cy="266.60" r="2.35" fill="#f58a97" stroke="#a60c28" stroke-width="1.05"/>
<circle cx="466.90" cy="269.70" r="2.35" fill="#f58a97" stroke="#a60c28" stroke-width="1.05"/>
<circle cx="480.80" cy="266.40" r="2.35" fill="#f58a97" stroke="#a60c28" stroke-width="1.05"/>
<circle cx="483.50" cy="266.40" r="2.35" fill="#f58a97" stroke="#a60c28" stroke-width="1.05"/>
<circle cx="490.60" cy="266.40" r="2.35" fill="#f58a97" stroke="#a60c28" stroke-width="1.05"/>
<circle cx="496.90" cy="269.60" r="2.35" fill="#f58a97" stroke="#a60c28" stroke-width="1.05"/>
<circle cx="506.70" cy="268.50" r="2.35" fill="#f58a97" stroke="#a60c28" stroke-width="1.05"/>
<circle cx="476.70" cy="270.80" r="2.35" fill="#f58a97" stroke="#a60c28" stroke-width="1.05"/>
<circle cx="482.70" cy="271.60" r="2.35" fill="#f58a97" stroke="#a60c28" stroke-width="1.05"/>
<circle cx="493.40" cy="274.30" r="2.35" fill="#f58a97" stroke="#a60c28" stroke-width="1.05"/>
<circle cx="477.20" cy="275.90" r="2.35" fill="#f58a97" stroke="#a60c28" stroke-width="1.05"/>
<circle cx="481.40" cy="276.90" r="2.35" fill="#f58a97" stroke="#a60c28" stroke-width="1.05"/>
<circle cx="485.80" cy="275.90" r="2.35" fill="#f58a97" stroke="#a60c28" stroke-width="1.05"/>
<circle cx="463.70" cy="282.20" r="2.35" fill="#f58a97" stroke="#a60c28" stroke-width="1.05"/>
<circle cx="468.50" cy="280.30" r="2.35" fill="#f58a97" stroke="#a60c28" stroke-width="1.05"/>
<circle cx="473.20" cy="280.30" r="2.35" fill="#f58a97" stroke="#a60c28" stroke-width="1.05"/>
<circle cx="477.90" cy="280.30" r="2.35" fill="#f58a97" stroke="#a60c28" stroke-width="1.05"/>
<circle cx="475.10" cy="283.80" r="2.35" fill="#f58a97" stroke="#a60c28" stroke-width="1.05"/>
<circle cx="489.00" cy="282.70" r="2.35" fill="#f58a97" stroke="#a60c28" stroke-width="1.05"/>
<circle cx="498.50" cy="283.80" r="2.35" fill="#f58a97" stroke="#a60c28" stroke-width="1.05"/>
<circle cx="473.20" cy="287.80" r="2.35" fill="#f58a97" stroke="#a60c28" stroke-width="1.05"/>
<circle cx="475.10" cy="291.70" r="2.35" fill="#f58a97" stroke="#a60c28" stroke-width="1.05"/>
<circle cx="488.20" cy="289.50" r="2.35" fill="#f58a97" stroke="#a60c28" stroke-width="1.05"/>
<circle cx="445.50" cy="296.50" r="2.35" fill="#f58a97" stroke="#a60c28" stroke-width="1.05"/>
<circle cx="463.40" cy="298.00" r="2.35" fill="#f58a97" stroke="#a60c28" stroke-width="1.05"/>
<circle cx="480.80" cy="296.50" r="2.35" fill="#f58a97" stroke="#a60c28" stroke-width="1.05"/>
<circle cx="485.10" cy="294.90" r="2.35" fill="#f58a97" stroke="#a60c28" stroke-width="1.05"/>
<circle cx="490.60" cy="295.40" r="2.35" fill="#f58a97" stroke="#a60c28" stroke-width="1.05"/>
<circle cx="480.80" cy="301.70" r="2.35" fill="#f58a97" stroke="#a60c28" stroke-width="1.05"/>
<circle cx="479.50" cy="278.50" r="2.35" fill="#f58a97" stroke="#a60c28" stroke-width="1.05"/>
<text x="3.6" y="369.9" font-size="11" font-weight="bold" style="fill:#000;stroke:#000;stroke-width:0.45px">I</text>
<line x1="24.90" y1="376.88" x2="24.90" y2="477.10" stroke="#333333" stroke-width="1.5"/>
<line x1="21.90" y1="379.48" x2="24.90" y2="379.48" stroke="#333333" stroke-width="1.0"/>
<text x="18.70" y="381.88" font-size="8" text-anchor="end" >4</text>
<line x1="21.90" y1="403.76" x2="24.90" y2="403.76" stroke="#333333" stroke-width="1.0"/>
<text x="18.70" y="406.16" font-size="8" text-anchor="end" >3</text>
<line x1="21.90" y1="428.04" x2="24.90" y2="428.04" stroke="#333333" stroke-width="1.0"/>
<text x="18.70" y="430.44" font-size="8" text-anchor="end" >2</text>
<line x1="21.90" y1="452.32" x2="24.90" y2="452.32" stroke="#333333" stroke-width="1.0"/>
<text x="18.70" y="454.72" font-size="8" text-anchor="end" >1</text>
<line x1="21.90" y1="476.60" x2="24.90" y2="476.60" stroke="#333333" stroke-width="1.0"/>
<text x="18.70" y="479.00" font-size="8" text-anchor="end" >0</text>
<line x1="24.30" y1="476.60" x2="140.20" y2="476.60" stroke="#333333" stroke-width="1.2"/>
<line x1="24.90" y1="476.60" x2="24.90" y2="479.60" stroke="#333333" stroke-width="1.0"/>
<text x="24.90" y="489.60" font-size="8" text-anchor="middle" >0</text>
<line x1="47.45" y1="476.60" x2="47.45" y2="479.60" stroke="#333333" stroke-width="1.0"/>
<text x="47.45" y="489.60" font-size="8" text-anchor="middle" >1</text>
<line x1="70.00" y1="476.60" x2="70.00" y2="479.60" stroke="#333333" stroke-width="1.0"/>
<text x="70.00" y="489.60" font-size="8" text-anchor="middle" >2</text>
<line x1="92.55" y1="476.60" x2="92.55" y2="479.60" stroke="#333333" stroke-width="1.0"/>
<text x="92.55" y="489.60" font-size="8" text-anchor="middle" >3</text>
<line x1="115.10" y1="476.60" x2="115.10" y2="479.60" stroke="#333333" stroke-width="1.0"/>
<text x="115.10" y="489.60" font-size="8" text-anchor="middle" >4</text>
<line x1="137.65" y1="476.60" x2="137.65" y2="479.60" stroke="#333333" stroke-width="1.0"/>
<text x="137.65" y="489.60" font-size="8" text-anchor="middle" >5</text>
<text x="82.60" y="503.60" font-size="10.5" text-anchor="middle" textLength="32.3" lengthAdjust="spacingAndGlyphs" >CKD Stage</text>
<text x="9.20" y="425.45" font-size="9" text-anchor="middle" textLength="44.9" lengthAdjust="spacingAndGlyphs" transform="rotate(-90 9.20 425.45)" class="rl" >log2 (PsuPAR)</text>
<text x="48.4" y="386.1" font-size="8.3" text-anchor="middle"><tspan font-style="italic">r</tspan> = 0.4788</text>
<text x="48.4" y="395.7" font-size="8.3" text-anchor="middle">R<tspan font-size="5.15" dy="-3.2">2</tspan><tspan dy="3.2"> = 0.2292</tspan></text>
<text x="48.4" y="405.3" font-size="8.3" text-anchor="middle"><tspan font-style="italic">P</tspan> &lt; .0001</text>
<line x1="27.70" y1="436.30" x2="135.70" y2="412.00" stroke="#333" stroke-width="1.2"/>
<circle cx="24.90" cy="420.30" r="2.35" fill="#f58a97" stroke="#a60c28" stroke-width="1.05"/>
<circle cx="24.90" cy="423.15" r="2.35" fill="#f58a97" stroke="#a60c28" stroke-width="1.05"/>
<circle cx="24.90" cy="426.00" r="2.35" fill="#f58a97" stroke="#a60c28" stroke-width="1.05"/>
<circle cx="24.90" cy="428.85" r="2.35" fill="#f58a97" stroke="#a60c28" stroke-width="1.05"/>
<circle cx="24.90" cy="431.70" r="2.35" fill="#f58a97" stroke="#a60c28" stroke-width="1.05"/>
<circle cx="24.90" cy="434.55" r="2.35" fill="#f58a97" stroke="#a60c28" stroke-width="1.05"/>
<circle cx="24.90" cy="437.40" r="2.35" fill="#f58a97" stroke="#a60c28" stroke-width="1.05"/>
<circle cx="24.90" cy="440.25" r="2.35" fill="#f58a97" stroke="#a60c28" stroke-width="1.05"/>
<circle cx="24.90" cy="443.10" r="2.35" fill="#f58a97" stroke="#a60c28" stroke-width="1.05"/>
<circle cx="24.90" cy="445.95" r="2.35" fill="#f58a97" stroke="#a60c28" stroke-width="1.05"/>
<circle cx="24.90" cy="448.80" r="2.35" fill="#f58a97" stroke="#a60c28" stroke-width="1.05"/>
<circle cx="24.90" cy="451.65" r="2.35" fill="#f58a97" stroke="#a60c28" stroke-width="1.05"/>
<circle cx="47.30" cy="419.40" r="2.35" fill="#f58a97" stroke="#a60c28" stroke-width="1.05"/>
<circle cx="47.30" cy="423.40" r="2.35" fill="#f58a97" stroke="#a60c28" stroke-width="1.05"/>
<circle cx="47.30" cy="427.30" r="2.35" fill="#f58a97" stroke="#a60c28" stroke-width="1.05"/>
<circle cx="47.30" cy="431.30" r="2.35" fill="#f58a97" stroke="#a60c28" stroke-width="1.05"/>
<circle cx="47.30" cy="435.60" r="2.35" fill="#f58a97" stroke="#a60c28" stroke-width="1.05"/>
<circle cx="47.30" cy="440.60" r="2.35" fill="#f58a97" stroke="#a60c28" stroke-width="1.05"/>
<circle cx="47.30" cy="445.50" r="2.35" fill="#f58a97" stroke="#a60c28" stroke-width="1.05"/>
<circle cx="47.30" cy="452.40" r="2.35" fill="#f58a97" stroke="#a60c28" stroke-width="1.05"/>
<circle cx="47.30" cy="454.40" r="2.35" fill="#f58a97" stroke="#a60c28" stroke-width="1.05"/>
<circle cx="69.90" cy="415.90" r="2.35" fill="#f58a97" stroke="#a60c28" stroke-width="1.05"/>
<circle cx="69.90" cy="419.40" r="2.35" fill="#f58a97" stroke="#a60c28" stroke-width="1.05"/>
<circle cx="69.90" cy="423.40" r="2.35" fill="#f58a97" stroke="#a60c28" stroke-width="1.05"/>
<circle cx="69.90" cy="429.70" r="2.35" fill="#f58a97" stroke="#a60c28" stroke-width="1.05"/>
<circle cx="92.50" cy="407.30" r="2.35" fill="#f58a97" stroke="#a60c28" stroke-width="1.05"/>
<circle cx="92.50" cy="417.50" r="2.35" fill="#f58a97" stroke="#a60c28" stroke-width="1.05"/>
<circle cx="92.50" cy="418.30" r="2.35" fill="#f58a97" stroke="#a60c28" stroke-width="1.05"/>
<circle cx="92.50" cy="429.70" r="2.35" fill="#f58a97" stroke="#a60c28" stroke-width="1.05"/>
<circle cx="92.50" cy="437.90" r="2.35" fill="#f58a97" stroke="#a60c28" stroke-width="1.05"/>
<circle cx="137.30" cy="398.80" r="2.35" fill="#f58a97" stroke="#a60c28" stroke-width="1.05"/>
<text x="159" y="369.9" font-size="11" font-weight="bold" style="fill:#000;stroke:#000;stroke-width:0.45px">J</text>
<line x1="180.70" y1="376.80" x2="180.70" y2="477.10" stroke="#333333" stroke-width="1.25"/>
<line x1="177.70" y1="379.40" x2="180.70" y2="379.40" stroke="#333333" stroke-width="1.0"/>
<text x="174.50" y="381.80" font-size="8" text-anchor="end" >6</text>
<line x1="177.70" y1="411.80" x2="180.70" y2="411.80" stroke="#333333" stroke-width="1.0"/>
<text x="174.50" y="414.20" font-size="8" text-anchor="end" >4</text>
<line x1="177.70" y1="444.20" x2="180.70" y2="444.20" stroke="#333333" stroke-width="1.0"/>
<text x="174.50" y="446.60" font-size="8" text-anchor="end" >2</text>
<line x1="177.70" y1="476.60" x2="180.70" y2="476.60" stroke="#333333" stroke-width="1.0"/>
<text x="174.50" y="479.00" font-size="8" text-anchor="end" >0</text>
<line x1="180.10" y1="476.60" x2="293.50" y2="476.60" stroke="#333333" stroke-width="1.2"/>
<line x1="180.70" y1="476.60" x2="180.70" y2="479.60" stroke="#333333" stroke-width="1.0"/>
<text x="180.70" y="489.60" font-size="8" text-anchor="middle" >0</text>
<line x1="225.90" y1="476.60" x2="225.90" y2="479.60" stroke="#333333" stroke-width="1.0"/>
<text x="225.90" y="489.60" font-size="8" text-anchor="middle" >2</text>
<line x1="271.10" y1="476.60" x2="271.10" y2="479.60" stroke="#333333" stroke-width="1.0"/>
<text x="271.10" y="489.60" font-size="8" text-anchor="middle" >4</text>
<text x="237.30" y="503.60" font-size="10.5" text-anchor="middle" textLength="32.2" lengthAdjust="spacingAndGlyphs" >CKD Stage</text>
<text x="165.30" y="426.70" font-size="9" text-anchor="middle" textLength="60.6" lengthAdjust="spacingAndGlyphs" transform="rotate(-90 165.30 426.70)" class="rl" >log2 (UsuPAR/CRE)</text>
<text x="264.5" y="386.9" font-size="8.6" text-anchor="middle"><tspan font-style="italic">r</tspan> = −0.2040</text>
<text x="264.5" y="396.2" font-size="8.6" text-anchor="middle">R<tspan font-size="5.33" dy="-3.2">2</tspan><tspan dy="3.2"> = 0.4160</tspan></text>
<text x="264.5" y="405.8" font-size="8.6" text-anchor="middle"><tspan font-style="italic">P</tspan> = .1842</text>
<line x1="182.70" y1="431.40" x2="291.90" y2="449.90" stroke="#333" stroke-width="1.2"/>
<circle cx="180.70" cy="398.40" r="2.35" fill="#f58a97" stroke="#a60c28" stroke-width="1.05"/>
<circle cx="180.70" cy="402.40" r="2.35" fill="#f58a97" stroke="#a60c28" stroke-width="1.05"/>
<circle cx="180.70" cy="414.90" r="2.35" fill="#f58a97" stroke="#a60c28" stroke-width="1.05"/>
<circle cx="180.70" cy="419.80" r="2.35" fill="#f58a97" stroke="#a60c28" stroke-width="1.05"/>
<circle cx="180.70" cy="425.80" r="2.35" fill="#f58a97" stroke="#a60c28" stroke-width="1.05"/>
<circle cx="180.70" cy="428.10" r="2.35" fill="#f58a97" stroke="#a60c28" stroke-width="1.05"/>
<circle cx="180.70" cy="430.70" r="2.35" fill="#f58a97" stroke="#a60c28" stroke-width="1.05"/>
<circle cx="180.70" cy="433.70" r="2.35" fill="#f58a97" stroke="#a60c28" stroke-width="1.05"/>
<circle cx="180.70" cy="437.60" r="2.35" fill="#f58a97" stroke="#a60c28" stroke-width="1.05"/>
<circle cx="180.70" cy="446.50" r="2.35" fill="#f58a97" stroke="#a60c28" stroke-width="1.05"/>
<circle cx="180.70" cy="447.50" r="2.35" fill="#f58a97" stroke="#a60c28" stroke-width="1.05"/>
<circle cx="180.70" cy="453.40" r="2.35" fill="#f58a97" stroke="#a60c28" stroke-width="1.05"/>
<circle cx="180.70" cy="456.40" r="2.35" fill="#f58a97" stroke="#a60c28" stroke-width="1.05"/>
<circle cx="180.70" cy="459.40" r="2.35" fill="#f58a97" stroke="#a60c28" stroke-width="1.05"/>
<circle cx="203.40" cy="381.20" r="2.35" fill="#f58a97" stroke="#a60c28" stroke-width="1.05"/>
<circle cx="203.40" cy="395.50" r="2.35" fill="#f58a97" stroke="#a60c28" stroke-width="1.05"/>
<circle cx="203.40" cy="411.90" r="2.35" fill="#f58a97" stroke="#a60c28" stroke-width="1.05"/>
<circle cx="203.40" cy="414.30" r="2.35" fill="#f58a97" stroke="#a60c28" stroke-width="1.05"/>
<circle cx="203.40" cy="425.80" r="2.35" fill="#f58a97" stroke="#a60c28" stroke-width="1.05"/>
<circle cx="203.40" cy="431.30" r="2.35" fill="#f58a97" stroke="#a60c28" stroke-width="1.05"/>
<circle cx="203.40" cy="433.70" r="2.35" fill="#f58a97" stroke="#a60c28" stroke-width="1.05"/>
<circle cx="203.40" cy="435.60" r="2.35" fill="#f58a97" stroke="#a60c28" stroke-width="1.05"/>
<circle cx="203.40" cy="438.60" r="2.35" fill="#f58a97" stroke="#a60c28" stroke-width="1.05"/>
<circle cx="203.40" cy="441.60" r="2.35" fill="#f58a97" stroke="#a60c28" stroke-width="1.05"/>
<circle cx="203.40" cy="444.50" r="2.35" fill="#f58a97" stroke="#a60c28" stroke-width="1.05"/>
<circle cx="203.40" cy="448.50" r="2.35" fill="#f58a97" stroke="#a60c28" stroke-width="1.05"/>
<circle cx="203.40" cy="464.30" r="2.35" fill="#f58a97" stroke="#a60c28" stroke-width="1.05"/>
<circle cx="203.40" cy="465.70" r="2.35" fill="#f58a97" stroke="#a60c28" stroke-width="1.05"/>
<circle cx="203.40" cy="472.20" r="2.35" fill="#f58a97" stroke="#a60c28" stroke-width="1.05"/>
<circle cx="226.10" cy="413.90" r="2.35" fill="#f58a97" stroke="#a60c28" stroke-width="1.05"/>
<circle cx="226.10" cy="443.50" r="2.35" fill="#f58a97" stroke="#a60c28" stroke-width="1.05"/>
<circle cx="226.10" cy="448.50" r="2.35" fill="#f58a97" stroke="#a60c28" stroke-width="1.05"/>
<circle cx="248.20" cy="419.80" r="2.35" fill="#f58a97" stroke="#a60c28" stroke-width="1.05"/>
<circle cx="248.20" cy="425.80" r="2.35" fill="#f58a97" stroke="#a60c28" stroke-width="1.05"/>
<circle cx="248.20" cy="429.70" r="2.35" fill="#f58a97" stroke="#a60c28" stroke-width="1.05"/>
<circle cx="248.20" cy="446.90" r="2.35" fill="#f58a97" stroke="#a60c28" stroke-width="1.05"/>
<circle cx="248.20" cy="467.90" r="2.35" fill="#f58a97" stroke="#a60c28" stroke-width="1.05"/>
<circle cx="293.30" cy="465.60" r="2.35" fill="#f58a97" stroke="#a60c28" stroke-width="1.05"/>
<text x="313" y="369.9" font-size="11" font-weight="bold" style="fill:#000;stroke:#000;stroke-width:0.45px">K</text>
<line x1="345.60" y1="377.10" x2="345.60" y2="477.10" stroke="#333333" stroke-width="1.25"/>
<line x1="342.60" y1="379.70" x2="345.60" y2="379.70" stroke="#333333" stroke-width="1.0"/>
<text x="339.40" y="382.19" font-size="8.3" text-anchor="end" textLength="12.88" lengthAdjust="spacingAndGlyphs" >100</text>
<line x1="342.60" y1="428.15" x2="345.60" y2="428.15" stroke="#333333" stroke-width="1.0"/>
<text x="339.40" y="430.64" font-size="8.3" text-anchor="end" textLength="8.58" lengthAdjust="spacingAndGlyphs" >50</text>
<line x1="342.60" y1="476.60" x2="345.60" y2="476.60" stroke="#333333" stroke-width="1.0"/>
<text x="339.40" y="479.09" font-size="8.3" text-anchor="end" textLength="4.29" lengthAdjust="spacingAndGlyphs" >0</text>
<line x1="345.00" y1="476.60" x2="460.50" y2="476.60" stroke="#333333" stroke-width="1.2"/>
<line x1="345.60" y1="476.60" x2="345.60" y2="479.60" stroke="#333333" stroke-width="1.0"/>
<text x="345.60" y="489.70" font-size="8" text-anchor="middle" >0</text>
<line x1="401.75" y1="476.60" x2="401.75" y2="479.60" stroke="#333333" stroke-width="1.0"/>
<text x="401.75" y="489.70" font-size="8" text-anchor="middle" >50</text>
<line x1="457.90" y1="476.60" x2="457.90" y2="479.60" stroke="#333333" stroke-width="1.0"/>
<text x="457.90" y="489.70" font-size="8" text-anchor="middle" >100</text>
<text x="318.50" y="426.70" font-size="9" text-anchor="middle" textLength="39.2" lengthAdjust="spacingAndGlyphs" transform="rotate(-90 318.50 426.70)" class="rl" >Sensitivity %</text>
<text x="403.40" y="503.60" font-size="10.3" text-anchor="middle" textLength="63.2" lengthAdjust="spacingAndGlyphs" >100% - Specificity %</text>
<text x="366.30" y="420.60" font-size="8.2" text-anchor="start" >AUC = 0.889</text>
<polyline points="345.60,476.60 345.60,433.70 356.40,433.70 356.40,401.50 379.10,401.50 379.10,391.00 390.20,385.40 401.40,380.00 457.90,380.00" fill="none" stroke="#2a2a2a" stroke-width="1.3"/>
<circle cx="345.60" cy="433.70" r="2.35" fill="#f58a97" stroke="#a60c28" stroke-width="1.05"/>
<circle cx="345.60" cy="449.90" r="2.35" fill="#f58a97" stroke="#a60c28" stroke-width="1.05"/>
<circle cx="345.60" cy="455.00" r="2.35" fill="#f58a97" stroke="#a60c28" stroke-width="1.05"/>
<circle cx="345.60" cy="465.90" r="2.35" fill="#f58a97" stroke="#a60c28" stroke-width="1.05"/>
<circle cx="345.60" cy="471.20" r="2.35" fill="#f58a97" stroke="#a60c28" stroke-width="1.05"/>
<circle cx="345.60" cy="476.20" r="2.35" fill="#f58a97" stroke="#a60c28" stroke-width="1.05"/>
<circle cx="356.40" cy="433.70" r="2.35" fill="#f58a97" stroke="#a60c28" stroke-width="1.05"/>
<circle cx="356.40" cy="428.10" r="2.35" fill="#f58a97" stroke="#a60c28" stroke-width="1.05"/>
<circle cx="356.40" cy="417.50" r="2.35" fill="#f58a97" stroke="#a60c28" stroke-width="1.05"/>
<circle cx="356.40" cy="412.30" r="2.35" fill="#f58a97" stroke="#a60c28" stroke-width="1.05"/>
<circle cx="356.40" cy="407.00" r="2.35" fill="#f58a97" stroke="#a60c28" stroke-width="1.05"/>
<circle cx="356.40" cy="401.60" r="2.35" fill="#f58a97" stroke="#a60c28" stroke-width="1.05"/>
<circle cx="379.10" cy="401.40" r="2.35" fill="#f58a97" stroke="#a60c28" stroke-width="1.05"/>
<circle cx="379.10" cy="396.10" r="2.35" fill="#f58a97" stroke="#a60c28" stroke-width="1.05"/>
<circle cx="379.10" cy="390.80" r="2.35" fill="#f58a97" stroke="#a60c28" stroke-width="1.05"/>
<circle cx="390.20" cy="385.50" r="2.35" fill="#f58a97" stroke="#a60c28" stroke-width="1.05"/>
<circle cx="401.40" cy="380.20" r="2.35" fill="#f58a97" stroke="#a60c28" stroke-width="1.05"/>
<circle cx="412.70" cy="380.20" r="2.35" fill="#f58a97" stroke="#a60c28" stroke-width="1.05"/>
<circle cx="423.90" cy="380.20" r="2.35" fill="#f58a97" stroke="#a60c28" stroke-width="1.05"/>
<circle cx="435.20" cy="380.20" r="2.35" fill="#f58a97" stroke="#a60c28" stroke-width="1.05"/>
<circle cx="446.40" cy="380.20" r="2.35" fill="#f58a97" stroke="#a60c28" stroke-width="1.05"/>
<circle cx="457.90" cy="380.20" r="2.35" fill="#f58a97" stroke="#a60c28" stroke-width="1.05"/>
</svg>
</body></html>
